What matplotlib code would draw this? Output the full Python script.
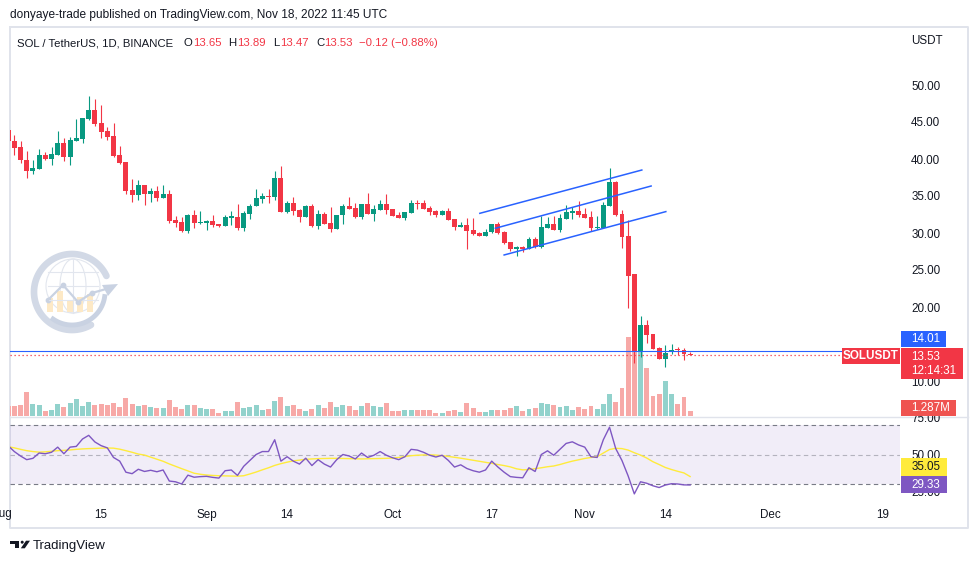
import matplotlib
matplotlib.use("Agg")
import matplotlib.pyplot as plt
import matplotlib.dates as mdates
from matplotlib.patches import Rectangle, Circle, Polygon, Ellipse
import numpy as np
import pandas as pd

plt.rcParams["font.family"] = ["Liberation Sans", "DejaVu Sans"]

W, H = 979, 563
TXT = "#131722"
GREEN = "#089981"
RED = "#f23645"
VOL_UP = "#92d2cc"
VOL_DN = "#f7a9a7"
BLUE = "#2962ff"
PURPLE = "#7e57c2"
YELLOW = "#ffeb3b"
FRAME = "#e0e3eb"

# ─── DATA (SOL/USDT 1D, Jul 31 – Nov 18 2022) ─────────────────────────────
DATES = pd.date_range("2022-07-31", "2022-11-18", freq="D")

OPEN = [43.9,
        42.4, 41.6, 39.9, 38.4, 38.6, 40.5, 40.0, 40.5, 42.2, 40.3,
        42.4, 42.7, 45.4, 46.6, 44.9, 43.8, 43.1, 40.5, 39.6, 35.8,
        35.1, 36.5, 35.3, 35.7, 34.7, 35.3, 31.8, 31.5, 30.3, 32.4, 31.4,
        31.4, 31.6, 31.2, 30.9, 32.0, 32.2, 30.7, 32.6, 33.6, 34.6,
        35.0, 34.9, 37.4, 32.8, 34.1, 33.1, 32.2, 33.6, 31.0, 32.6,
        31.35, 30.5, 32.4, 33.6, 33.4, 32.2, 33.9, 32.6, 33.1, 33.9,
        33.2, 32.5, 32.0, 32.7, 34.0, 34.0, 33.4, 33.0, 32.5, 33.0,
        31.9, 30.8, 31.1, 30.4, 30.0, 29.55, 30.1, 31.2, 30.1, 28.8,
        27.9, 28.1, 27.8, 29.2, 28.1, 30.7, 31.2, 30.4, 31.9, 32.7, 33.0,
        32.6, 32.2, 30.7, 30.7, 33.7, 36.9, 32.6, 29.6, 24.4, 13.95,
        17.6, 16.35, 14.5, 13.0, 13.9, 14.3, 14.2, 13.65]
HIGH = [44.5,
        43.2, 42.4, 41.1, 39.9, 41.35, 40.9, 41.6, 43.8, 42.8, 43.0,
        45.4, 45.5, 48.5, 48.1, 47.3, 44.3, 44.9, 41.8, 39.6, 37.3,
        37.2, 36.5, 36.1, 36.4, 36.5, 35.8, 32.3, 32.2, 32.6, 33.1, 33.0,
        31.8, 32.4, 31.2, 32.4, 33.0, 33.9, 33.0, 33.9, 35.9, 35.4,
        35.9, 38.4, 39.1, 34.3, 34.9, 33.2, 33.8, 33.9, 33.1, 32.9,
        33.5, 32.4, 33.9, 34.9, 34.1, 33.9, 35.4, 33.8, 34.5, 35.3,
        33.2, 32.9, 32.8, 34.5, 34.4, 34.4, 33.7, 33.1, 33.1, 33.4,
        31.9, 31.5, 32.0, 32.0, 30.1, 30.5, 31.2, 31.5, 30.3, 28.8,
        28.2, 28.2, 29.5, 29.5, 32.3, 32.2, 32.3, 32.6, 33.8, 33.5, 34.3,
        33.4, 33.0, 32.3, 34.2, 38.8, 37.0, 33.1, 31.8, 24.4, 18.8,
        18.2, 16.35, 14.6, 14.9, 15.0, 14.6, 14.5, 13.89]
LOW = [42.0,
       40.5, 39.5, 37.5, 38.0, 38.6, 39.9, 39.2, 40.5, 39.7, 39.2,
       42.4, 42.2, 45.3, 44.5, 42.8, 42.6, 40.3, 39.3, 35.3, 34.2,
       34.5, 33.8, 34.2, 34.3, 34.7, 31.4, 30.8, 30.1, 30.0, 30.7, 31.2,
       30.4, 30.8, 30.8, 30.9, 31.1, 30.4, 30.3, 31.9, 33.6, 34.1,
       34.1, 34.5, 32.8, 32.7, 32.4, 31.5, 32.2, 30.8, 30.5, 31.2,
       30.1, 30.5, 31.2, 33.2, 32.0, 31.9, 32.6, 31.6, 33.1, 32.6,
       32.3, 32.0, 31.8, 32.7, 33.2, 33.3, 32.5, 32.2, 32.5, 31.8,
       30.4, 30.8, 27.9, 29.7, 29.55, 29.55, 30.0, 29.9, 28.5, 27.6,
       26.85, 27.5, 27.8, 28.0, 28.0, 30.7, 30.4, 30.1, 31.9, 31.9, 32.2,
       32.0, 30.3, 30.5, 30.7, 33.7, 32.3, 28.0, 19.9, 12.4, 13.3,
       15.1, 14.3, 13.0, 11.9, 13.65, 13.55, 12.9, 13.47]
CLOSE = [42.4,
         41.5, 39.8, 38.4, 38.8, 40.5, 40.0, 40.7, 42.2, 40.3, 42.6,
         42.8, 45.5, 46.6, 44.7, 43.6, 43.0, 40.4, 39.5, 35.7, 35.1,
         36.5, 35.3, 35.7, 34.7, 35.3, 31.6, 31.4, 30.3, 32.4, 31.4, 31.5,
         31.6, 31.1, 30.9, 32.2, 32.3, 30.7, 32.7, 33.6, 34.7, 35.0,
         34.9, 37.4, 32.8, 34.1, 33.0, 32.2, 33.6, 30.95, 32.6, 31.2,
         30.5, 32.4, 33.6, 33.2, 32.2, 33.9, 32.6, 33.2, 33.9, 33.1,
         32.3, 32.0, 32.8, 34.0, 33.9, 33.3, 32.8, 32.5, 33.0, 31.8,
         30.8, 31.1, 30.3, 29.9, 29.55, 30.1, 31.2, 30.0, 28.6, 27.9,
         28.1, 27.8, 29.2, 28.1, 30.8, 31.2, 30.4, 32.0, 32.8, 33.0, 32.4,
         32.0, 30.7, 30.8, 33.8, 36.9, 32.4, 29.5, 24.2, 13.95, 17.6,
         16.2, 14.35, 13.0, 13.85, 14.2, 14.15, 13.65, 13.53]
VOLUME_M = [2.5,
            2.6, 2.8, 6.2, 3.1, 2.8, 1.3, 1.5, 3.1, 2.3, 3.3,
            4.4, 2.6, 3.6, 2.8, 3.1, 2.8, 3.3, 2.3, 4.6, 3.1,
            2.6, 2.8, 2.3, 2.1, 2.1, 4.1, 2.3, 1.8, 2.8, 2.8, 2.1,
            1.8, 1.8, 0.8, 1.3, 1.3, 3.6, 2.1, 2.3, 2.8, 1.5,
            1.8, 3.9, 4.9, 2.6, 2.8, 1.8, 1.3, 1.8, 2.8, 2.1,
            3.6, 2.3, 2.8, 2.6, 1.5, 2.6, 3.3, 2.6, 2.3, 3.3,
            1.3, 1.3, 1.5, 1.5, 1.5, 1.5, 1.5, 0.8, 0.8, 1.3,
            1.5, 1.0, 3.3, 2.1, 1.0, 1.0, 1.5, 1.5, 1.5, 2.1,
            2.6, 1.3, 1.8, 2.1, 3.3, 3.1, 2.8, 2.3, 2.6, 1.5, 2.3,
            1.8, 2.6, 1.9, 3.1, 5.7, 3.6, 7.2, 20.3, 28.3, 21.9,
            12.4, 5.1, 5.7, 9.0, 5.7, 3.1, 4.9, 1.287]
RSI = [56.0,
       52.0, 49.0, 46.5, 47.4, 51.0, 50.5, 51.5, 55.0, 50.5, 55.0,
       55.5, 60.5, 63.0, 58.5, 56.0, 54.5, 48.0, 45.5, 38.0, 37.0,
       40.0, 38.5, 39.3, 38.3, 39.5, 32.0, 31.5, 30.0, 36.0, 34.6, 35.0,
       35.2, 34.5, 34.0, 39.0, 39.5, 35.8, 42.0, 46.0, 50.0, 52.0,
       52.0, 60.0, 45.5, 48.5, 45.5, 43.5, 47.5, 42.5, 46.5, 43.5,
       41.5, 46.5, 50.0, 49.0, 47.0, 51.0, 48.0, 49.5, 52.0, 49.5,
       47.8, 46.5, 48.5, 53.5, 53.0, 51.5, 49.5, 48.3, 49.5, 46.0,
       41.5, 43.0, 40.5, 39.0, 38.0, 39.5, 45.5, 41.5, 38.0, 35.0,
       34.5, 34.2, 41.0, 38.5, 50.0, 52.5, 49.5, 53.5, 57.5, 58.6, 56.5,
       55.0, 48.5, 48.0, 60.0, 68.5, 54.0, 46.0, 35.5, 23.3, 31.5,
       30.5, 28.8, 27.6, 29.3, 30.2, 30.0, 29.4, 29.33]
RSI_MA = [55.3,
          54.5, 53.5, 52.6, 52.0, 51.6, 51.8, 52.2, 52.6, 52.8, 53.1,
          53.5, 53.8, 54.0, 54.1, 54.3, 54.4, 54.3, 53.6, 52.6, 51.5,
          50.3, 49.6, 48.2, 46.8, 45.4, 43.6, 42.0, 40.4, 38.9, 37.3, 36.6,
          36.1, 35.8, 35.6, 35.5, 35.4, 35.3, 35.6, 36.8, 38.1, 39.6,
          41.0, 42.6, 43.8, 44.8, 45.7, 46.2, 46.7, 47.0, 47.2, 47.3,
          47.4, 47.4, 47.3, 47.2, 47.1, 47.0, 47.1, 47.2, 47.3, 47.4,
          47.6, 48.0, 48.6, 49.2, 49.5, 49.7, 49.8, 49.6, 49.2, 48.7,
          48.1, 47.5, 46.8, 46.1, 45.4, 44.7, 44.0, 43.2, 42.5, 41.6,
          40.3, 39.6, 39.8, 40.4, 41.0, 41.7, 42.2, 43.2, 44.4, 45.5, 46.4,
          47.3, 48.0, 48.5, 51.0, 53.4, 54.2, 54.0, 53.0, 51.2, 49.6,
          47.6, 45.1, 43.2, 41.2, 39.8, 38.6, 37.5, 35.05]

# parallel channel drawn on the chart (start, end)
CH_TIME = [("2022-10-15 02:00", "2022-11-10 05:00"),
           ("2022-10-17 14:00", "2022-11-11 17:00"),
           ("2022-10-19 00:00", "2022-11-14 02:00")]
CH_PRICE = [(32.66, 38.51), (30.64, 36.35), (27.03, 32.89)]

H_LINE = 14.01
LAST = CLOSE[-1]
PRICE_TICKS = [10, 20, 25, 30, 35, 40, 45, 50]
RSI_TICKS = [25, 50, 75]
DATE_TICKS = ["2022-08-15", "2022-09-01", "2022-09-14", "2022-10-01", "2022-10-17",
              "2022-11-01", "2022-11-14", "2022-12-01", "2022-12-19"]
DATE_LABELS = ["15", "Sep", "14", "Oct", "17", "Nov", "14", "Dec", "19"]

# ─── FIGURE / PANES (pixel layout) ────────────────────────────────────────
fig = plt.figure(figsize=(W / 100, H / 100), dpi=100)
fig.patch.set_facecolor("white")


def rect(l, t, r, b):
    return [l / W, 1 - b / H, (r - l) / W, (b - t) / H]


bg = fig.add_axes([0, 0, 1, 1], zorder=0)
bg.set_xlim(0, W); bg.set_ylim(H, 0); bg.axis("off")

ax_vol = fig.add_axes(rect(10, 28, 900, 416), zorder=1)
ax = fig.add_axes(rect(10, 28, 900, 416), zorder=2, sharex=ax_vol)
ax_rsi = fig.add_axes(rect(10, 417, 900, 498), zorder=2, sharex=ax_vol)
top = fig.add_axes([0, 0, 1, 1], zorder=10)
top.set_xlim(0, W); top.set_ylim(H, 0); top.axis("off")

for a in (ax_vol, ax, ax_rsi):
    a.set_facecolor("none")
    for s in a.spines.values():
        s.set_visible(False)

x = mdates.date2num(DATES)
d0 = x[0]
ax_vol.set_xlim(d0 + 0.306, d0 + 143.85)

o, h, l, c = map(np.array, (OPEN, HIGH, LOW, CLOSE))
up = c >= o

# volume
ax_vol.bar(x, VOLUME_M, width=0.78, color=np.where(up, VOL_UP, VOL_DN), lw=0)
ax_vol.set_ylim(0, 388 * 1.287 / 5)
ax_vol.set_yticks([]); ax_vol.tick_params(bottom=False, labelbottom=False)

# candles
col = np.where(up, GREEN, RED)
ax.vlines(x, l, h, colors=col, lw=0.8)
ax.bar(x, np.maximum(np.abs(c - o), 0.14), bottom=np.minimum(o, c),
       width=0.78, color=col, lw=0)
ax.set_ylim(50 - (416 - 85) / 7.4, 50 + (85 - 28) / 7.4)

ax.axhline(H_LINE, color=BLUE, lw=0.8)
ax.axhline(LAST, color=RED, lw=0.9, ls=(0, (1, 2.2)))
for (t0, t1), (p0, p1) in zip(CH_TIME, CH_PRICE):
    ax.plot(mdates.datestr2num([t0, t1]), [p0, p1], color=BLUE, lw=1.1)

ax.yaxis.tick_right()
ax.set_yticks(PRICE_TICKS)
ax.set_yticklabels([f"{v:.2f}" for v in PRICE_TICKS])
ax.tick_params(axis="y", length=0, pad=8, labelsize=8.4, labelcolor=TXT)
ax.tick_params(axis="x", bottom=False, labelbottom=False)

# RSI pane
ax_rsi.axhspan(30, 70, color=PURPLE, alpha=0.1, lw=0)
ax_rsi.axhline(70, color="#787b86", lw=0.8, ls=(0, (4, 3)))
ax_rsi.axhline(30, color="#787b86", lw=0.8, ls=(0, (4, 3)))
ax_rsi.axhline(50, color="#787b86", lw=0.8, ls=(0, (4, 3)), alpha=0.5)
ax_rsi.plot(x, RSI_MA, color=YELLOW, lw=1.0)
ax_rsi.plot(x, RSI, color=PURPLE, lw=1.0)
ax_rsi.set_ylim(50 - (498 - 454.5) / 1.475, 50 + (454.5 - 417) / 1.475)
ax_rsi.yaxis.tick_right()
ax_rsi.set_yticks(RSI_TICKS)
ax_rsi.set_yticklabels([f"{v:.2f}" for v in RSI_TICKS])
ax_rsi.tick_params(axis="y", length=0, pad=8, labelsize=8.4, labelcolor=TXT)
ax_rsi.set_xticks(mdates.datestr2num(DATE_TICKS))
ax_rsi.set_xticklabels(DATE_LABELS)
ax_rsi.tick_params(axis="x", length=0, pad=8, labelsize=8.4, labelcolor=TXT)

# ─── FRAME + WATERMARK ────────────────────────────────────────────────────
bg.plot([10, 968, 968, 10, 10], [27, 27, 528, 528, 27], color=FRAME, lw=1.4)
bg.plot([10, 968], [416.5, 416.5], color=FRAME, lw=1.0)

cx0, cy0 = 72, 292
t = np.radians(np.linspace(25, 300, 120))
bg.plot(cx0 + 38 * np.cos(t), cy0 - 38 * np.sin(t), color="#d2d9e6", lw=4.8,
        solid_capstyle="round")
t = np.radians(np.linspace(235, 352, 80))
bg.plot(cx0 + 33 * np.cos(t), cy0 - 33 * np.sin(t), color="#c9d2e2", lw=3.5)
bg.add_patch(Polygon([[108, 296], [118, 284], [102, 285]], closed=True,
                     fc="#c9d2e2", ec="none"))
bg.add_patch(Circle((cx0 + 1, cy0 - 6), 27, fc="none", ec="#e2e6ee", lw=0.8))
bg.add_patch(Ellipse((cx0 + 1, cy0 - 6), 26, 54, fc="none", ec="#e2e6ee", lw=0.8))
bg.plot([cx0 + 1, cx0 + 1], [cy0 - 33, cy0 + 21], color="#e2e6ee", lw=0.8)
for yy in (cy0 - 20, cy0 - 6, cy0 + 8):
    bg.plot([cx0 - 24, cx0 + 26], [yy, yy], color="#e2e6ee", lw=0.8)
for bx, btop in zip([47, 57, 67, 77, 87], [298, 291, 300, 297, 294]):
    bg.add_patch(Rectangle((bx, btop), 6, 312 - btop, fc="#fde9c6", ec="none"))
bg.plot([48, 63, 78, 92, 106], [300, 285, 302, 293, 289], color="#c9d2e2", lw=1.6)
bg.scatter([48, 63, 78, 92], [300, 285, 302, 293], s=10, color="#c9d2e2")

# ─── TEXT & LABELS ────────────────────────────────────────────────────────
top.text(10, 15, "donyaye-trade published on TradingView.com, Nov 18, 2022 11:45 UTC",
         fontsize=8.6, color=TXT, va="center")
for xx, s, cl in [(17.3, "SOL / TetherUS, 1D, BINANCE", TXT), (184, "O", TXT),
                  (193.5, "13.65", RED), (228, "H", TXT), (237, "13.89", RED),
                  (273, "L", TXT), (280, "13.47", RED), (316, "C", TXT),
                  (324.5, "13.53", RED), (359, "\u22120.12 (\u22120.88%)", RED)]:
    top.text(xx, 43, s, fontsize=8.2, color=cl, va="center")
top.text(911, 41, "USDT", fontsize=8.4, color=TXT, va="center")
top.text(13, 514, "Aug", fontsize=8.4, color=TXT, va="center", ha="right")


def box(l, t, r, b, fc):
    top.add_patch(Rectangle((l, t), r - l, b - t, fc=fc, ec="none"))


box(901, 331, 946, 347, BLUE)
top.text(911.5, 339, f"{H_LINE:.2f}", fontsize=8.4, color="white", va="center")
box(842, 348, 900, 364, RED)
top.text(871, 356, "SOLUSDT", fontsize=8.4, color="white", va="center",
         ha="center", fontweight="bold")
box(901, 348, 963, 379, RED)
top.text(911.5, 356.5, f"{LAST:.2f}", fontsize=8.4, color="white", va="center")
top.text(911.5, 370.5, "12:14:31", fontsize=8.4, color="white", va="center")
box(901, 400, 956, 416, "#ef5350")
top.text(911.5, 408.3, f"{VOLUME_M[-1]:.3f}M", fontsize=8.4, color="white", va="center")
box(901, 458, 947, 475.5, YELLOW)
top.text(911.5, 467, f"{RSI_MA[-1]:.2f}", fontsize=8.4, color=TXT, va="center")
box(901, 476, 947, 493, PURPLE)
top.text(911.5, 484.5, f"{RSI[-1]:.2f}", fontsize=8.4, color="white", va="center")

# footer logo
top.add_patch(Polygon([[10, 540.7], [19.3, 540.7], [19.3, 548.3], [15.2, 548.3],
                       [15.2, 543.6], [10, 543.6]], closed=True, fc=TXT, ec="none"))
top.add_patch(Circle((22.2, 542.2), 1.5, fc=TXT, ec="none"))
top.add_patch(Polygon([[20.8, 548.3], [24.8, 548.3], [30, 540.7], [26, 540.7]],
                      closed=True, fc=TXT, ec="none"))
top.text(33, 545.5, "TradingView", fontsize=9.5, color=TXT, va="center")

fig.savefig("out.png", dpi=100, facecolor="white")
